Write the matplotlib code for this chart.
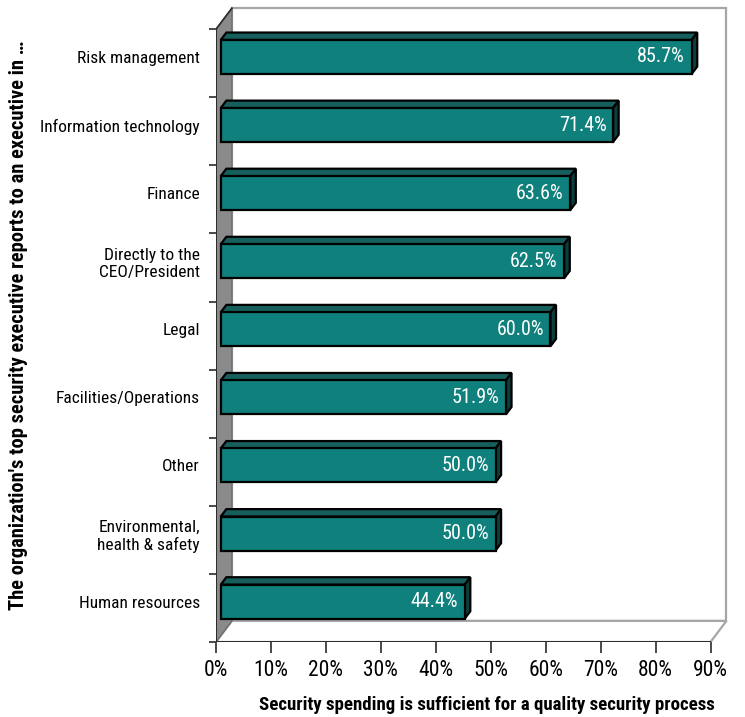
import matplotlib
matplotlib.use("Agg")
import matplotlib.pyplot as plt
from matplotlib.patches import Polygon
from matplotlib import font_manager

# ---- data ----
categories = [
    "Risk management",
    "Information technology",
    "Finance",
    "Directly to the\nCEO/President",
    "Legal",
    "Facilities/Operations",
    "Other",
    "Environmental,\nhealth & safety",
    "Human resources",
]
values = [85.7, 71.4, 63.6, 62.5, 60.0, 51.9, 50.0, 50.0, 44.4]
x_ticks = [0, 10, 20, 30, 40, 50, 60, 70, 80, 90]
x_tick_labels = [f"{t}%" for t in x_ticks]
x_label = "Security spending is sufficient for a quality security process"
y_label = "The organization's top security executive reports to an executive in \u2026"

# ---- font: prefer a condensed sans ----
installed = {f.name for f in font_manager.fontManager.ttflist}
family = "DejaVu Sans"
for cand in ["Roboto Condensed", "Liberation Sans Narrow", "Open Sans Condensed", "DejaVu Sans"]:
    if cand in installed:
        family = cand
        break
plt.rcParams["font.family"] = [family, "DejaVu Sans"]

# ---- style ----
FRONT = "#10807c"
TOP = "#175f5d"
SIDE = "#0b3f3e"
WALL = "#8a8a8a"
FRAME = "#a6a6a6"
AXIS = "#2b2b2b"

XMAX = 90
N = len(categories)
DX, DY = 2.9, 0.31          # depth vector of the 3-D box (data units)
F0, F1 = 0.30, 0.65         # bar depth extent as fraction of the depth vector
HALF = 0.25                 # half bar thickness (category units)

fig = plt.figure(figsize=(7.45, 7.17), dpi=100)
ax = fig.add_axes([216 / 745, (717 - 642) / 717, 522 / 745, 640 / 717])
ax.set_xlim(0, 95)
ax.set_ylim(0, 9.4)
for s in ax.spines.values():
    s.set_visible(False)

# back wall outline, floor and left wall
ax.add_patch(Polygon([(DX, DY), (XMAX + DX, DY), (XMAX + DX, N + DY), (DX, N + DY)],
                     closed=True, facecolor="white", edgecolor=FRAME, lw=1.6, zorder=1))
ax.add_patch(Polygon([(0, 0), (XMAX, 0), (XMAX + DX, DY), (DX, DY)],
                     closed=True, facecolor="white", edgecolor=FRAME, lw=1.6, zorder=1))
ax.add_patch(Polygon([(0, 0), (DX, DY), (DX, N + DY), (0, N)],
                     closed=True, facecolor=WALL, edgecolor="#6e6e6e", lw=1.0, zorder=2))
ax.plot([0, DX], [N, N + DY], color=AXIS, lw=1.2, zorder=3)
ax.plot([0, XMAX], [0, 0], color=AXIS, lw=1.4, zorder=3, solid_capstyle="butt")
ax.plot([0, 0], [0, N], color=AXIS, lw=1.4, zorder=3, solid_capstyle="butt")

ox, oy = F0 * DX, F0 * DY
bx, by = F1 * DX, F1 * DY
centers = [N - i - 0.5 for i in range(N)]

for c, v in zip(centers, values):
    y0, y1 = c - HALF, c + HALF
    top = [(ox, y1 + oy), (v + ox, y1 + oy), (v + bx, y1 + by), (bx, y1 + by)]
    side = [(v + ox, y0 + oy), (v + bx, y0 + by), (v + bx, y1 + by), (v + ox, y1 + oy)]
    front = [(ox, y0 + oy), (v + ox, y0 + oy), (v + ox, y1 + oy), (ox, y1 + oy)]
    for pts, fc in ((top, TOP), (side, SIDE), (front, FRONT)):
        ax.add_patch(Polygon(pts, closed=True, facecolor=fc, edgecolor="black",
                             lw=1.6, joinstyle="miter", zorder=5))
    ax.text(v + ox - 1.2, c + oy, f"{v:.1f}%", ha="right", va="center",
            color="white", fontsize=14.5, zorder=6)

# x axis ticks
ax.set_xticks(x_ticks)
ax.set_xticklabels(x_tick_labels, fontsize=15.5)
ax.tick_params(axis="x", direction="out", length=8, width=1.2, color=AXIS, pad=5)

# y axis: boundary ticks (major) and category labels (minor)
ax.set_yticks(range(N + 1))
ax.set_yticklabels([])
ax.tick_params(axis="y", which="major", direction="out", length=5, width=1.2, color=AXIS)
ax.set_yticks([c + oy for c in centers], minor=True)
ax.set_yticklabels(categories, minor=True, fontsize=12.5)
ax.tick_params(axis="y", which="minor", length=0, pad=11.5)

fig.text(487 / 745, 1 - 705 / 717, x_label, ha="center", va="center",
         fontsize=13.6, fontweight="bold")
fig.text(19 / 745, 1 - 325 / 717, y_label, ha="center", va="center",
         rotation=90, fontsize=14.8, fontweight="bold")

fig.savefig("out.png", dpi=100)
